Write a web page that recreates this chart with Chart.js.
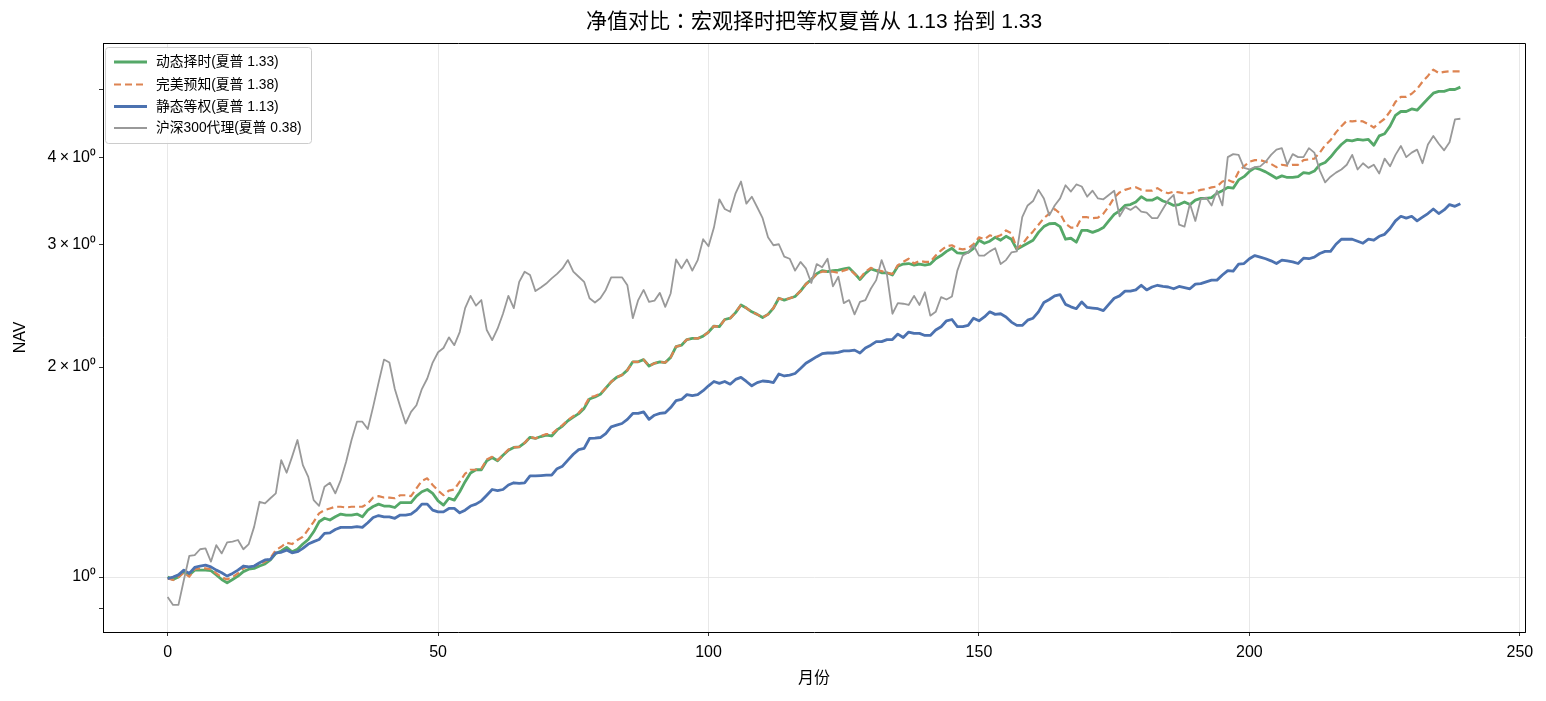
<!DOCTYPE html>
<html>
<head>
<meta charset="utf-8">
<script src="https://cdn.jsdelivr.net/npm/chart.js@4.4.1/dist/chart.umd.min.js"></script>
<style>
  html, body { margin: 0; padding: 0; background: #fff; }
  canvas { display: block; }
</style>
</head>
<body>
<canvas id="navChart" width="1546" height="701"></canvas>
<script>
"use strict";

// 月份序号 0..239
const months = Array.from({ length: 240 }, (_, i) => i);

const seriesNames = [
    '动态择时(夏普 1.33)',
    '完美预知(夏普 1.38)',
    '静态等权(夏普 1.13)',
    '沪深300代理(夏普 0.38)'
];

// 动态择时
const dynamicNav = [
    1.000, 0.992, 1.000, 1.018, 1.007, 1.023, 1.023, 1.023, 1.021, 1.007,
    0.992, 0.981, 0.992, 1.003, 1.018, 1.026, 1.029, 1.037, 1.044, 1.058,
    1.081, 1.090, 1.103, 1.087, 1.096, 1.115, 1.132, 1.161, 1.200, 1.214,
    1.207, 1.220, 1.231, 1.227, 1.227, 1.231, 1.220, 1.247, 1.262, 1.272,
    1.264, 1.264, 1.258, 1.278, 1.278, 1.278, 1.306, 1.325, 1.335, 1.318,
    1.286, 1.268, 1.297, 1.289, 1.325, 1.370, 1.410, 1.425, 1.425, 1.468,
    1.484, 1.468, 1.495, 1.520, 1.534, 1.537, 1.557, 1.586, 1.580, 1.590,
    1.598, 1.593, 1.625, 1.646, 1.675, 1.695, 1.715, 1.745, 1.800, 1.812,
    1.828, 1.866, 1.905, 1.933, 1.948, 1.980, 2.035, 2.035, 2.050, 2.007,
    2.025, 2.035, 2.030, 2.065, 2.140, 2.150, 2.190, 2.198, 2.198, 2.215,
    2.245, 2.290, 2.285, 2.340, 2.350, 2.394, 2.455, 2.430, 2.400, 2.380,
    2.355, 2.380, 2.430, 2.510, 2.495, 2.510, 2.525, 2.570, 2.630, 2.670,
    2.722, 2.750, 2.740, 2.750, 2.755, 2.765, 2.775, 2.725, 2.670, 2.725,
    2.765, 2.750, 2.730, 2.730, 2.710, 2.790, 2.810, 2.815, 2.800, 2.810,
    2.800, 2.810, 2.860, 2.890, 2.930, 2.960, 2.915, 2.910, 2.920, 2.960,
    3.040, 3.010, 3.030, 3.070, 3.040, 3.080, 3.050, 2.950, 2.980, 3.010,
    3.040, 3.120, 3.180, 3.210, 3.215, 3.180, 3.050, 3.060, 3.020, 3.140,
    3.140, 3.120, 3.140, 3.170, 3.240, 3.310, 3.350, 3.410, 3.420, 3.450,
    3.510, 3.470, 3.470, 3.500, 3.460, 3.440, 3.410, 3.420, 3.450, 3.420,
    3.470, 3.490, 3.490, 3.500, 3.550, 3.580, 3.620, 3.610, 3.710, 3.750,
    3.815, 3.860, 3.840, 3.810, 3.770, 3.730, 3.760, 3.740, 3.740, 3.750,
    3.800, 3.790, 3.820, 3.900, 3.930, 4.000, 4.090, 4.170, 4.230, 4.220,
    4.240, 4.230, 4.240, 4.160, 4.290, 4.320, 4.430, 4.590, 4.650, 4.650,
    4.690, 4.670, 4.760, 4.850, 4.940, 4.970, 4.970, 5.000, 5.000, 5.040
];

// 完美预知
const perfectNav = [
    0.995, 0.990, 1.000, 1.014, 1.001, 1.026, 1.029, 1.029, 1.026, 1.012,
    0.999, 0.992, 1.000, 1.012, 1.029, 1.037, 1.037, 1.044, 1.052, 1.064,
    1.093, 1.105, 1.120, 1.115, 1.130, 1.142, 1.170, 1.200, 1.234, 1.247,
    1.254, 1.261, 1.261, 1.258, 1.261, 1.261, 1.261, 1.275, 1.300, 1.306,
    1.300, 1.300, 1.297, 1.310, 1.310, 1.306, 1.340, 1.374, 1.385, 1.355,
    1.330, 1.310, 1.330, 1.335, 1.370, 1.407, 1.425, 1.425, 1.430, 1.474,
    1.487, 1.471, 1.495, 1.523, 1.534, 1.537, 1.557, 1.589, 1.580, 1.593,
    1.603, 1.603, 1.628, 1.651, 1.679, 1.701, 1.720, 1.755, 1.810, 1.818,
    1.832, 1.866, 1.905, 1.933, 1.948, 1.980, 2.035, 2.035, 2.050, 2.007,
    2.025, 2.035, 2.030, 2.065, 2.140, 2.150, 2.190, 2.198, 2.198, 2.215,
    2.245, 2.290, 2.285, 2.340, 2.350, 2.394, 2.455, 2.430, 2.400, 2.380,
    2.355, 2.380, 2.430, 2.510, 2.495, 2.510, 2.525, 2.570, 2.630, 2.670,
    2.720, 2.740, 2.740, 2.740, 2.730, 2.750, 2.765, 2.720, 2.680, 2.740,
    2.775, 2.755, 2.745, 2.730, 2.720, 2.800, 2.830, 2.860, 2.815, 2.840,
    2.830, 2.830, 2.890, 2.940, 2.980, 2.990, 2.960, 2.950, 2.960, 3.000,
    3.070, 3.050, 3.090, 3.070, 3.090, 3.140, 3.110, 2.960, 3.000, 3.070,
    3.130, 3.200, 3.270, 3.320, 3.370, 3.320, 3.210, 3.170, 3.170, 3.280,
    3.280, 3.270, 3.275, 3.320, 3.400, 3.500, 3.560, 3.590, 3.610, 3.620,
    3.590, 3.580, 3.580, 3.610, 3.570, 3.550, 3.570, 3.560, 3.550, 3.550,
    3.570, 3.590, 3.600, 3.620, 3.630, 3.690, 3.710, 3.680, 3.810, 3.880,
    3.940, 3.960, 3.960, 3.940, 3.910, 3.870, 3.900, 3.890, 3.900, 3.900,
    3.960, 3.970, 3.980, 4.060, 4.160, 4.230, 4.340, 4.430, 4.510, 4.500,
    4.510, 4.500, 4.460, 4.410, 4.480, 4.540, 4.650, 4.800, 4.880, 4.880,
    4.930, 5.010, 5.130, 5.230, 5.340, 5.280, 5.300, 5.310, 5.310, 5.310
];

// 静态等权
const staticNav = [
    0.995, 1.000, 1.007, 1.023, 1.012, 1.032, 1.037, 1.040, 1.034, 1.023,
    1.014, 1.003, 1.012, 1.023, 1.037, 1.034, 1.037, 1.048, 1.058, 1.060,
    1.083, 1.085, 1.093, 1.083, 1.087, 1.099, 1.115, 1.124, 1.132, 1.155,
    1.157, 1.170, 1.178, 1.178, 1.178, 1.181, 1.178, 1.196, 1.217, 1.225,
    1.220, 1.220, 1.214, 1.227, 1.227, 1.231, 1.247, 1.272, 1.272, 1.247,
    1.240, 1.240, 1.254, 1.254, 1.236, 1.247, 1.264, 1.272, 1.286, 1.310,
    1.335, 1.330, 1.335, 1.355, 1.365, 1.362, 1.365, 1.396, 1.396, 1.398,
    1.400, 1.400, 1.430, 1.442, 1.471, 1.500, 1.523, 1.529, 1.580, 1.582,
    1.585, 1.606, 1.642, 1.651, 1.660, 1.683, 1.716, 1.716, 1.725, 1.683,
    1.706, 1.716, 1.720, 1.750, 1.790, 1.797, 1.826, 1.820, 1.826, 1.850,
    1.880, 1.907, 1.895, 1.907, 1.890, 1.920, 1.933, 1.907, 1.880, 1.900,
    1.910, 1.907, 1.900, 1.955, 1.942, 1.948, 1.958, 1.990, 2.025, 2.047,
    2.070, 2.090, 2.095, 2.095, 2.100, 2.110, 2.110, 2.115, 2.095, 2.130,
    2.150, 2.175, 2.175, 2.190, 2.190, 2.230, 2.205, 2.245, 2.235, 2.235,
    2.220, 2.220, 2.260, 2.285, 2.330, 2.340, 2.285, 2.285, 2.295, 2.350,
    2.330, 2.360, 2.400, 2.380, 2.385, 2.360, 2.320, 2.295, 2.295, 2.335,
    2.350, 2.400, 2.475, 2.500, 2.530, 2.540, 2.460, 2.440, 2.425, 2.480,
    2.435, 2.430, 2.425, 2.410, 2.460, 2.510, 2.530, 2.570, 2.570, 2.580,
    2.620, 2.580, 2.605, 2.620, 2.610, 2.605, 2.590, 2.610, 2.600, 2.590,
    2.630, 2.635, 2.650, 2.665, 2.665, 2.710, 2.750, 2.745, 2.810, 2.815,
    2.860, 2.890, 2.875, 2.860, 2.840, 2.815, 2.847, 2.840, 2.830, 2.815,
    2.865, 2.860, 2.875, 2.910, 2.930, 2.930, 3.000, 3.050, 3.050, 3.050,
    3.030, 3.010, 3.050, 3.040, 3.080, 3.100, 3.160, 3.240, 3.290, 3.270,
    3.290, 3.240, 3.280, 3.320, 3.370, 3.320, 3.360, 3.420, 3.400, 3.430
];

// 沪深300代理
const hs300Nav = [
    0.936, 0.912, 0.912, 0.990, 1.072, 1.075, 1.096, 1.099, 1.052, 1.111,
    1.081, 1.121, 1.124, 1.130, 1.096, 1.115, 1.181, 1.282, 1.275, 1.297,
    1.318, 1.471, 1.411, 1.487, 1.572, 1.447, 1.392, 1.289, 1.265, 1.347,
    1.365, 1.318, 1.377, 1.463, 1.572, 1.670, 1.670, 1.630, 1.755, 1.900,
    2.050, 2.030, 1.860, 1.755, 1.660, 1.725, 1.763, 1.860, 1.926, 2.030,
    2.100, 2.130, 2.206, 2.150, 2.245, 2.430, 2.530, 2.450, 2.495, 2.260,
    2.186, 2.270, 2.385, 2.530, 2.430, 2.650, 2.740, 2.710, 2.570, 2.600,
    2.635, 2.680, 2.720, 2.770, 2.847, 2.740, 2.695, 2.650, 2.510, 2.475,
    2.510, 2.580, 2.690, 2.690, 2.690, 2.620, 2.350, 2.495, 2.580, 2.480,
    2.490, 2.555, 2.440, 2.550, 2.853, 2.770, 2.853, 2.750, 2.847, 3.050,
    2.980, 3.170, 3.480, 3.370, 3.340, 3.550, 3.690, 3.430, 3.510, 3.390,
    3.270, 3.070, 2.990, 3.000, 2.880, 2.860, 2.750, 2.830, 2.770, 2.640,
    2.810, 2.780, 2.860, 2.610, 2.695, 2.470, 2.495, 2.380, 2.480, 2.495,
    2.590, 2.665, 2.847, 2.710, 2.385, 2.470, 2.465, 2.455, 2.530, 2.455,
    2.560, 2.370, 2.400, 2.520, 2.500, 2.525, 2.750, 2.890, 2.920, 2.990,
    2.890, 2.890, 2.930, 2.960, 2.810, 2.847, 2.920, 2.930, 3.280, 3.410,
    3.460, 3.590, 3.490, 3.300, 3.410, 3.490, 3.645, 3.570, 3.655, 3.630,
    3.510, 3.580, 3.490, 3.480, 3.530, 3.580, 3.290, 3.390, 3.360, 3.400,
    3.340, 3.330, 3.270, 3.270, 3.370, 3.470, 3.530, 3.200, 3.180, 3.430,
    3.240, 3.480, 3.500, 3.410, 3.580, 3.410, 4.000, 4.040, 4.030, 3.860,
    3.840, 3.870, 3.880, 3.940, 4.030, 4.100, 4.120, 3.900, 4.040, 4.000,
    4.000, 4.120, 4.060, 3.830, 3.680, 3.750, 3.800, 3.840, 3.900, 4.030,
    3.840, 3.920, 3.860, 3.900, 3.790, 3.980, 3.880, 4.030, 4.150, 4.000,
    4.060, 4.100, 3.920, 4.170, 4.290, 4.180, 4.090, 4.200, 4.530, 4.540
];

// 刻度
const xTickValues = [0, 50, 100, 150, 200, 250];
const yTickValues = [0.9, 1, 2, 3, 4, 5];
const yTickLabels = { 1: '10⁰', 2: '2\u2009×\u200910⁰', 3: '3\u2009×\u200910⁰', 4: '4\u2009×\u200910⁰' };

const TITLE = '净值对比：宏观择时把等权夏普从 1.13 抬到 1.33';
const FONT = "'Liberation Sans', Arial, 'Noto Sans CJK SC', sans-serif";
const TITLE_FONT = "'Liberation Sans', Arial, 'Noto Sans CJK TC', 'Noto Sans CJK SC', sans-serif";

const COLORS = ['#55A868', '#DD8452', '#4C72B0', '#999999'];
const WIDTHS = [2.8, 2.2, 2.8, 1.8];
const DASHES = [[], [7, 4], [], []];

function toPoints(values) {
    return values.map((v, i) => ({ x: months[i], y: v }));
}

// 标题、上/右边框、图例
const framePlugin = {
    id: 'frame',
    afterDraw(chart) {
        const { ctx, chartArea: a } = chart;
        ctx.save();

        // top + right spines
        ctx.strokeStyle = '#000';
        ctx.lineWidth = 1;
        ctx.beginPath();
        ctx.moveTo(a.left, a.top + 0.5);
        ctx.lineTo(a.right + 0.5, a.top + 0.5);
        ctx.lineTo(a.right + 0.5, a.bottom);
        ctx.stroke();

        // title
        ctx.fillStyle = '#000';
        ctx.font = '21px ' + TITLE_FONT;
        ctx.textAlign = 'center';
        ctx.textBaseline = 'middle';
        ctx.fillText(TITLE, (a.left + a.right) / 2, 22);

        // legend
        const bx = 105.5, by = 47.5, bw = 206, bh = 96;
        ctx.beginPath();
        ctx.roundRect(bx, by, bw, bh, 3);
        ctx.fillStyle = 'rgba(255,255,255,0.85)';
        ctx.fill();
        ctx.strokeStyle = '#cccccc';
        ctx.stroke();

        const rows = [62, 84.5, 106.5, 128];
        ctx.font = '13.8px ' + FONT;
        ctx.textAlign = 'left';
        ctx.textBaseline = 'middle';
        seriesNames.forEach((name, i) => {
            ctx.strokeStyle = COLORS[i];
            ctx.lineWidth = WIDTHS[i];
            ctx.setLineDash(DASHES[i]);
            ctx.beginPath();
            ctx.moveTo(114, rows[i]);
            ctx.lineTo(147, rows[i]);
            ctx.stroke();
            ctx.setLineDash([]);
            ctx.fillStyle = '#000';
            ctx.fillText(name, 156, rows[i] + 0.5);
        });

        ctx.restore();
    }
};

const ctx = document.getElementById('navChart');

new Chart(ctx, {
    type: 'line',
    data: {
        datasets: [
            { label: seriesNames[0], data: toPoints(dynamicNav), borderColor: COLORS[0], borderWidth: WIDTHS[0], order: 3 },
            { label: seriesNames[1], data: toPoints(perfectNav), borderColor: COLORS[1], borderWidth: WIDTHS[1], borderDash: DASHES[1], order: 2 },
            { label: seriesNames[2], data: toPoints(staticNav), borderColor: COLORS[2], borderWidth: WIDTHS[2], order: 1 },
            { label: seriesNames[3], data: toPoints(hs300Nav), borderColor: COLORS[3], borderWidth: WIDTHS[3], order: 0 }
        ]
    },
    options: {
        responsive: false,
        animation: false,
        devicePixelRatio: 1,
        layout: { padding: { left: 0, right: 21, top: 43, bottom: 0 } },
        elements: {
            point: { radius: 0 },
            line: { tension: 0, fill: false, borderJoinStyle: 'round', borderCapStyle: 'butt' }
        },
        plugins: {
            legend: { display: false },
            tooltip: { enabled: false }
        },
        scales: {
            x: {
                type: 'linear',
                min: -11.95,
                max: 250.95,
                afterBuildTicks: s => { s.ticks = xTickValues.map(v => ({ value: v })); },
                afterFit: s => { s.height = 69; },
                grid: { color: '#e2e2e2', lineWidth: 0.8, tickColor: '#000', tickLength: 4 },
                border: { color: '#000', width: 1 },
                ticks: {
                    color: '#000',
                    font: { family: FONT, size: 16 },
                    padding: 7,
                    maxRotation: 0,
                    callback: v => String(v)
                },
                title: {
                    display: true,
                    text: '月份',
                    color: '#000',
                    font: { family: FONT, size: 16 },
                    padding: { top: 0, bottom: 13 }
                }
            },
            y: {
                type: 'logarithmic',
                min: 0.834,
                max: 5.83,
                afterBuildTicks: s => { s.ticks = yTickValues.map(v => ({ value: v })); },
                afterFit: s => { s.width = 103; },
                grid: {
                    color: c => (c.tick && c.tick.value === 1) ? '#e2e2e2' : 'rgba(0,0,0,0)',
                    lineWidth: 0.8,
                    tickColor: '#000',
                    tickLength: 4
                },
                border: { color: '#000', width: 1 },
                ticks: {
                    color: '#000',
                    font: { family: FONT, size: 16 },
                    padding: 3,
                    autoSkip: false,
                    callback: v => yTickLabels[v] || ''
                },
                title: {
                    display: true,
                    text: 'NAV',
                    color: '#000',
                    font: { family: FONT, size: 16 },
                    padding: { top: 11, bottom: 0 }
                }
            }
        }
    },
    plugins: [framePlugin]
});
</script>
</body>
</html>
